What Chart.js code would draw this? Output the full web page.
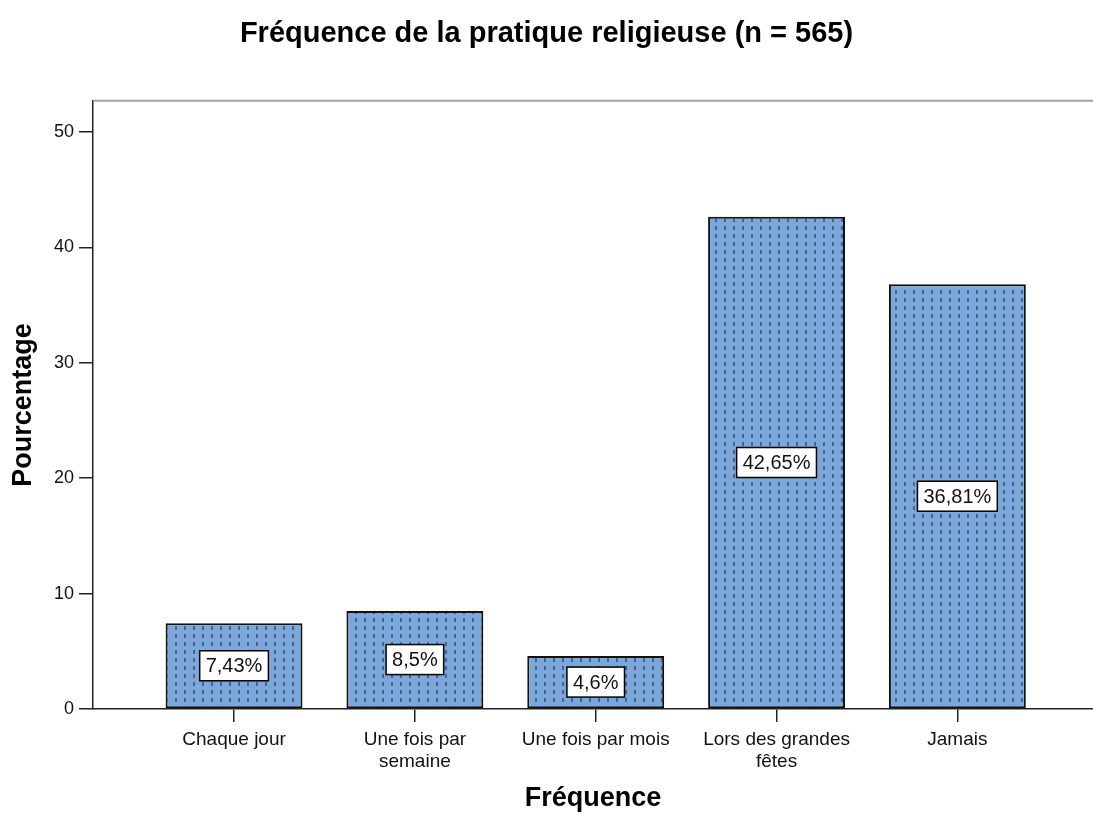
<!DOCTYPE html>
<html>
<head>
<meta charset="utf-8">
<script src="https://cdn.jsdelivr.net/npm/chart.js@4/dist/chart.umd.min.js"></script>
<style>
  html, body { margin: 0; padding: 0; background: #fff; }
  #wrap { width: 1093px; height: 815px; }
</style>
</head>
<body>
<div id="wrap"><canvas id="freq"></canvas></div>
<script>
const categories = [
    ['Chaque jour'],
    ['Une fois par', 'semaine'],
    ['Une fois par mois'],
    ['Lors des grandes', 'fêtes'],
    ['Jamais']
];
const percents = [7.43, 8.5, 4.6, 42.65, 36.81];
const yTicks = [0, 10, 20, 30, 40, 50];

const FONT = '"Liberation Sans", Arial, sans-serif';

// dotted fill like the SPSS bars
function makePattern() {
    const c = document.createElement('canvas');
    c.width = 9;
    c.height = 8;
    const g = c.getContext('2d');
    g.fillStyle = '#7ba7da';
    g.fillRect(0, 0, 9, 8);
    g.fillStyle = '#44658f';
    g.fillRect(4, 2, 2, 4);
    return g.createPattern(c, 'repeat');
}

const topLine = {
    id: 'topLine',
    afterDraw(chart) {
        const a = chart.chartArea, ctx = chart.ctx;
        ctx.save();
        ctx.strokeStyle = '#a0a0a0';
        ctx.lineWidth = 2;
        ctx.beginPath();
        ctx.moveTo(a.left, a.top);
        ctx.lineTo(a.right, a.top);
        ctx.stroke();
        ctx.restore();
    }
};

const boxLabels = {
    id: 'boxLabels',
    afterDatasetsDraw(chart) {
        const ctx = chart.ctx;
        const meta = chart.getDatasetMeta(0);
        ctx.save();
        ctx.font = '20px ' + FONT;
        ctx.textAlign = 'center';
        ctx.textBaseline = 'middle';
        meta.data.forEach((bar, i) => {
            const txt = String(percents[i]).replace('.', ',') + '%';
            const w = ctx.measureText(txt).width + 12;
            const h = 30;
            const cx = bar.x;
            const cy = (bar.y + bar.base) / 2;
            ctx.fillStyle = '#fff';
            ctx.fillRect(cx - w / 2, cy - h / 2, w, h);
            ctx.strokeStyle = '#000';
            ctx.lineWidth = 1.5;
            ctx.strokeRect(cx - w / 2, cy - h / 2, w, h);
            ctx.fillStyle = '#111';
            ctx.fillText(txt, cx, cy + 1);
        });
        ctx.restore();
    }
};

new Chart(document.getElementById('freq'), {
    type: 'bar',
    data: {
        datasets: [{
            data: percents.map((v, i) => ({ x: i, y: v })),
            backgroundColor: makePattern(),
            borderColor: '#111',
            borderWidth: 2,
            borderSkipped: false,
            categoryPercentage: 1,
            barPercentage: 0.757
        }]
    },
    options: {
        responsive: true,
        maintainAspectRatio: false,
        animation: false,
        layout: { padding: { right: 0, left: 0 } },
        plugins: {
            legend: { display: false },
            tooltip: { enabled: false },
            title: {
                display: true,
                text: 'Fréquence de la pratique religieuse (n = 565)',
                color: '#000',
                font: { family: FONT, size: 29, weight: 'bold' },
                padding: { top: 17, bottom: 49 }
            }
        },
        scales: {
            x: {
                type: 'linear',
                offset: false,
                min: -0.78,
                max: 4.75,
                afterBuildTicks: s => { s.ticks = categories.map((c, i) => ({ value: i })); },
                afterFit: s => { s.height = 106; },
                ticks: {
                    color: '#111',
                    font: { family: FONT, size: 19 },
                    padding: 6,
                    maxRotation: 0,
                    autoSkip: false,
                    callback: v => categories[v]
                },
                grid: { offset: false, drawOnChartArea: false, tickLength: 13, color: '#222', lineWidth: 1.5 },
                border: { color: '#222', width: 1.5 },
                title: {
                    display: true,
                    text: 'Fréquence',
                    color: '#000',
                    font: { family: FONT, size: 27, weight: 'bold' },
                    padding: { top: 0, bottom: 0 }
                }
            },
            y: {
                min: 0,
                max: 52.7,
                afterBuildTicks: s => { s.ticks = yTicks.map(v => ({ value: v })); },
                afterFit: s => { s.width = 93; },
                ticks: {
                    color: '#111',
                    font: { family: FONT, size: 18 },
                    padding: 5
                },
                grid: { drawOnChartArea: false, tickLength: 14, color: '#222', lineWidth: 1.5 },
                border: { color: '#222', width: 1.5 },
                title: {
                    display: true,
                    text: 'Pourcentage',
                    color: '#000',
                    font: { family: FONT, size: 27, weight: 'bold' },
                    padding: { top: 7, bottom: 0 }
                }
            }
        }
    },
    plugins: [topLine, boxLabels]
});
</script>
</body>
</html>
